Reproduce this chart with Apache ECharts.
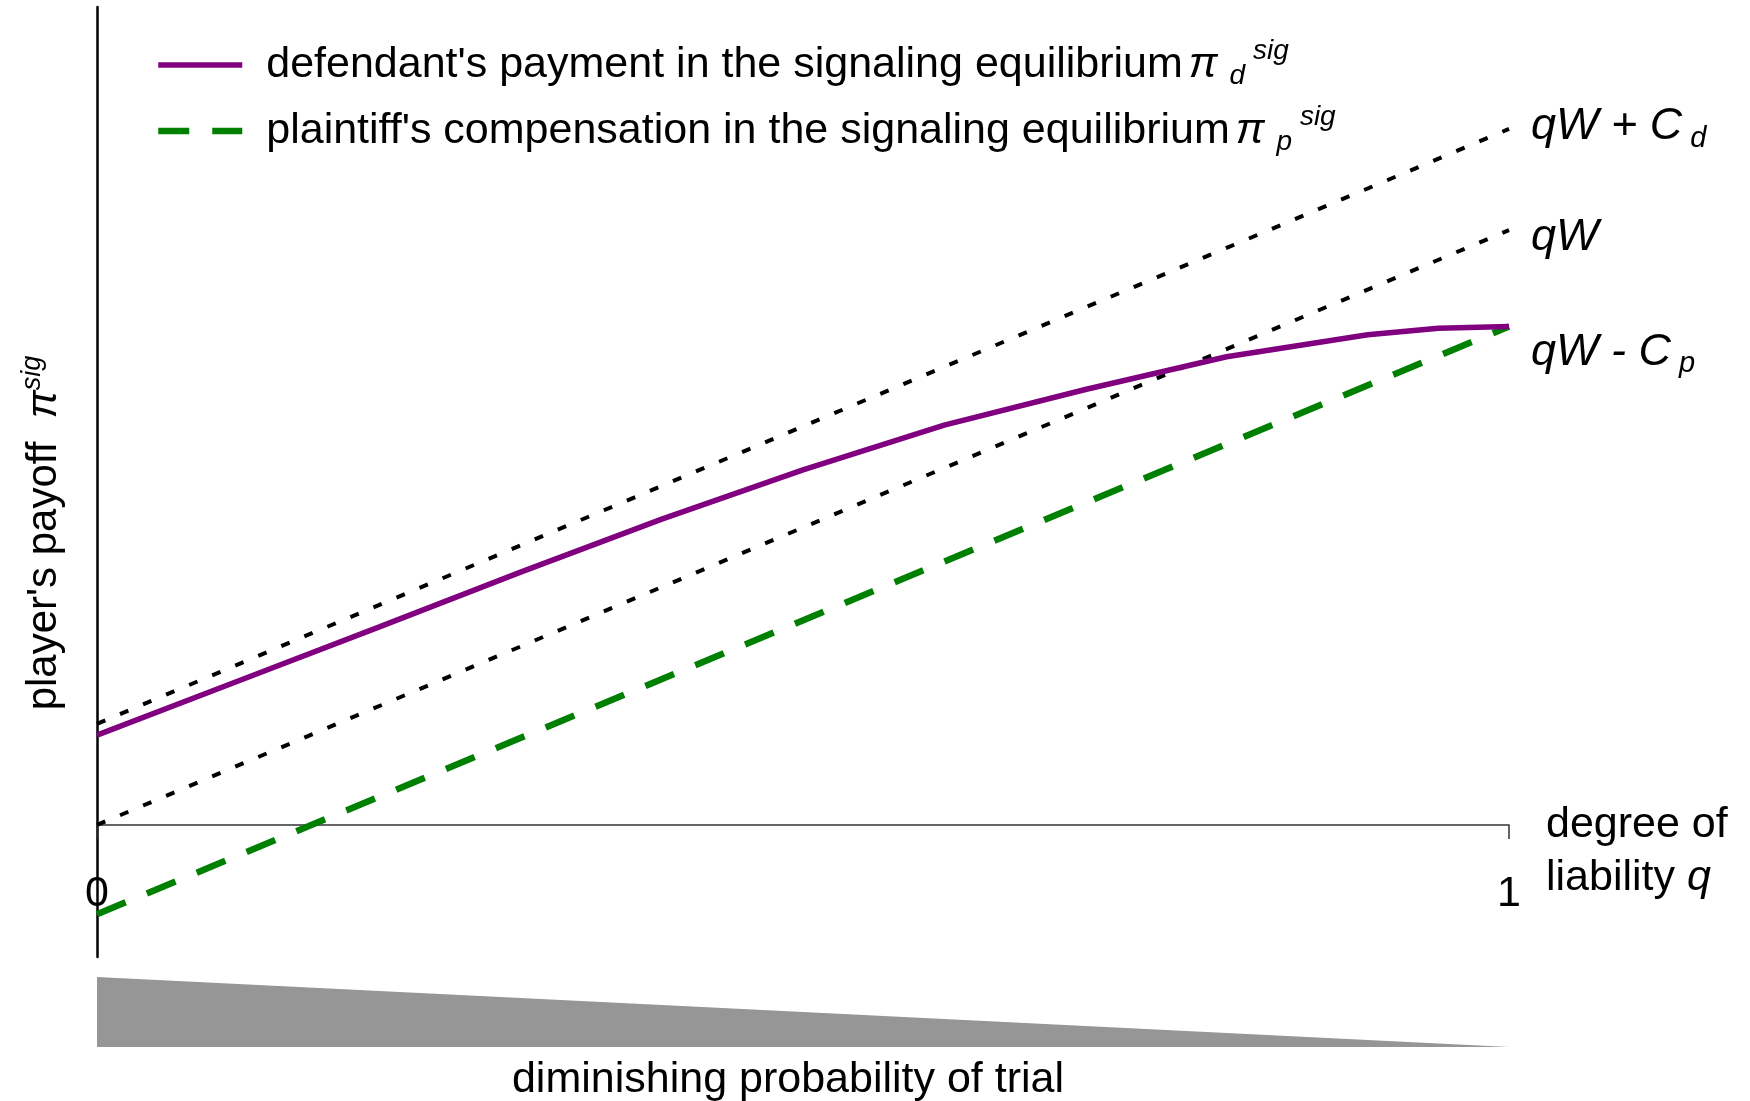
<!DOCTYPE html>
<html>
<head>
<meta charset="utf-8">
<script src="https://cdn.jsdelivr.net/npm/echarts@6/dist/echarts.min.js"></script>
<style>
  html, body { margin: 0; padding: 0; background: #fff; }
  #chart { width: 1750px; height: 1101px; }
</style>
</head>
<body>
<div id="chart"></div>
<script>
// Degree of liability q on the horizontal axis (0 .. 1)
const liabilityTicks = [0, 1];

// Defendant's payment in the signaling equilibrium (curved, piecewise)
const qDefendant = [0, 0.1, 0.2, 0.3, 0.4, 0.5, 0.6, 0.7, 0.8, 0.9, 0.95, 1];
const defendantPayment = [1.51, 2.42, 3.33, 4.25, 5.14, 5.97, 6.72, 7.32, 7.87, 8.24, 8.35, 8.38];

// Straight reference lines, given at q = 0 and q = 1
const qEnds = [0, 1];
const plaintiffCompensation = [-1.50, 8.38];   // plaintiff's compensation
const awardPlusDefenceCost = [1.70, 11.70];    // qW + C_d
const expectedAward = [0, 10];                 // qW

// Shaded wedge below the chart: probability of trial falls as q rises
const trialProbability = [1, 0];

const legendNames = ['defendant', 'plaintiff'];
const legendLabels = {
  defendant: "defendant's payment in the signaling equilibrium{sp| }{pi|\u03C0 }{sub|d}{sup| sig}",
  plaintiff: "plaintiff's compensation in the signaling equilibrium{sp| }{pi|\u03C0 }{sub|p}{sup| sig}"
};

const FONT = "'Liberation Sans', Arial, Helvetica, sans-serif";

function pairs(xs, ys) { return xs.map((x, i) => [x, ys[i]]); }

const labelRich = {
  m:   { fontFamily: FONT, fontStyle: 'italic', fontSize: 45, lineHeight: 52, color: '#000' },
  sub: { fontFamily: FONT, fontStyle: 'italic', fontSize: 29, lineHeight: 25, verticalAlign: 'bottom', color: '#000' }
};

const chart = echarts.init(document.getElementById('chart'), null, { renderer: 'canvas' });

const option = {
  animation: false,
  backgroundColor: '#ffffff',
  textStyle: { fontFamily: FONT },
  grid: [
    { left: 97, top: 7, width: 1412, height: 950, containLabel: false, outerBoundsMode: 'none' },
    { left: 97, top: 977, width: 1412, height: 70, containLabel: false, outerBoundsMode: 'none' }
  ],
  legend: {
    data: legendNames,
    orient: 'vertical',
    left: 155,
    top: 32,
    padding: 0,
    itemGap: 0,
    itemWidth: 84,
    itemHeight: 20,
    icon: 'inherit',
    itemStyle: { opacity: 0, borderWidth: 0 },
    lineStyle: { width: 'inherit', type: 'inherit', opacity: 1 },
    selectedMode: false,
    formatter: name => legendLabels[name],
    textStyle: {
      fontFamily: FONT, fontSize: 43, lineHeight: 66, color: '#000',
      padding: [0, 0, 0, 19],
      rich: {
        sp:  { fontFamily: FONT, fontSize: 43, lineHeight: 66, width: 6, color: '#000' },
        pi:  { fontFamily: FONT, fontStyle: 'italic', fontSize: 43, lineHeight: 66, color: '#000' },
        sub: { fontFamily: FONT, fontStyle: 'italic', fontSize: 28, verticalAlign: 'bottom', padding: [0, 0, 8, 0], color: '#000' },
        sup: { fontFamily: FONT, fontStyle: 'italic', fontSize: 28, verticalAlign: 'top', padding: [5, 0, 0, 0], color: '#000' }
      }
    }
  },
  xAxis: [
    {
      gridIndex: 0, type: 'value', min: liabilityTicks[0], max: liabilityTicks[1], interval: 1,
      axisLine: { show: true, onZero: true, lineStyle: { color: '#333', width: 1.5 } },
      axisTick: { show: true, length: 14, lineStyle: { color: '#333', width: 1.5 } },
      axisLabel: { show: true, margin: -84, fontFamily: FONT, fontSize: 43, lineHeight: 43, color: '#000',
                   showMinLabel: true, showMaxLabel: true },
      splitLine: { show: false },
      name: 'degree of\nliability {q|q}',
      nameLocation: 'end',
      nameGap: 37,
      nameTextStyle: {
        fontFamily: FONT, fontSize: 43, lineHeight: 53, color: '#000',
        align: 'left', verticalAlign: 'middle', padding: [53, 0, 0, 0],
        rich: { q: { fontFamily: FONT, fontStyle: 'italic', fontSize: 43, lineHeight: 53, color: '#000' } }
      }
    },
    {
      gridIndex: 1, type: 'value', min: 0, max: 1,
      axisLine: { show: false }, axisTick: { show: false }, axisLabel: { show: false }, splitLine: { show: false },
      name: 'diminishing probability of trial',
      nameLocation: 'middle',
      nameGap: 12,
      nameTextStyle: { fontFamily: FONT, fontSize: 43, lineHeight: 43, color: '#000', padding: [0, 30, 0, 0] }
    }
  ],
  yAxis: [
    {
      gridIndex: 0, type: 'value', min: -2.22, max: 13.75,
      axisLine: { show: true, onZero: false, lineStyle: { color: '#000', width: 2.5 } },
      axisTick: { show: false }, axisLabel: { show: false }, splitLine: { show: false },
      name: "player's payoff  {pi|\u03C0}{sup|sig}",
      nameLocation: 'middle',
      nameRotate: 90,
      nameGap: 28,
      nameTextStyle: {
        fontFamily: FONT, fontSize: 42, lineHeight: 50, color: '#000', padding: [0, 102, 0, 0],
        rich: {
          pi:  { fontFamily: FONT, fontStyle: 'italic', fontSize: 42, lineHeight: 50, color: '#000' },
          sup: { fontFamily: FONT, fontStyle: 'italic', fontSize: 27, lineHeight: 30, verticalAlign: 'top', color: '#000' }
        }
      }
    },
    {
      gridIndex: 1, type: 'value', min: 0, max: 1, show: false
    }
  ],
  series: [
    {
      name: 'awardPlusCost', type: 'line', xAxisIndex: 0, yAxisIndex: 0,
      data: pairs(qEnds, awardPlusDefenceCost),
      symbol: 'none', silent: true, z: 2,
      lineStyle: { color: '#000', width: 4, type: [9, 16] },
      endLabel: { show: true, formatter: '{m|qW + C}{sub| d}', distance: 22, offset: [0, -2], rich: labelRich }
    },
    {
      name: 'award', type: 'line', xAxisIndex: 0, yAxisIndex: 0,
      data: pairs(qEnds, expectedAward),
      symbol: 'none', silent: true, z: 2,
      lineStyle: { color: '#000', width: 4, type: [9, 16] },
      endLabel: { show: true, formatter: '{m|qW}', distance: 22, offset: [0, 7], rich: labelRich }
    },
    {
      name: 'plaintiff', type: 'line', xAxisIndex: 0, yAxisIndex: 0,
      data: pairs(qEnds, plaintiffCompensation),
      symbol: 'none', silent: true, z: 3,
      itemStyle: { color: '#008000' },
      lineStyle: { color: '#008000', width: 6.5, type: [31, 23] },
      endLabel: { show: true, formatter: '{m|qW - C}{sub| p}', distance: 22, offset: [0, 26], rich: labelRich }
    },
    {
      name: 'defendant', type: 'line', xAxisIndex: 0, yAxisIndex: 0,
      data: pairs(qDefendant, defendantPayment),
      symbol: 'none', silent: true, z: 4,
      itemStyle: { color: '#800080' },
      lineStyle: { color: '#800080', width: 5.5 }
    },
    {
      name: 'trial', type: 'line', xAxisIndex: 1, yAxisIndex: 1,
      data: pairs(qEnds, trialProbability),
      symbol: 'none', silent: true,
      lineStyle: { width: 0 },
      areaStyle: { color: '#969696', opacity: 1 }
    }
  ]
};

chart.setOption(option);
</script>
</body>
</html>
